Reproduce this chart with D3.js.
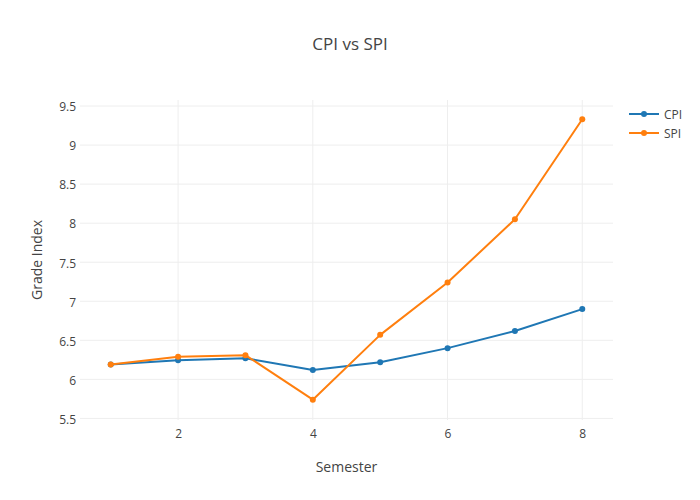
<!DOCTYPE html>
<html>
<head>
<meta charset="utf-8">
<script src="https://cdn.jsdelivr.net/npm/d3@7/dist/d3.min.js"></script>
<style>
  body { margin: 0; background: #fff; }
  svg { font-family: "Open Sans", sans-serif; }
</style>
</head>
<body>
<svg id="chart" width="700" height="500"></svg>
<script>
const semesters = [1, 2, 3, 4, 5, 6, 7, 8];
const cpi = [6.19, 6.245, 6.27, 6.12, 6.22, 6.40, 6.62, 6.90];
const spi = [6.19, 6.29, 6.31, 5.74, 6.57, 7.24, 8.05, 9.33];
const seriesNames = ["CPI", "SPI"];
const seriesColors = ["#1f77b4", "#ff7f0e"];
const xTicks = [2, 4, 6, 8];
const yTicks = [5.5, 6, 6.5, 7, 7.5, 8, 8.5, 9, 9.5];

const svg = d3.select("#chart");
const W = 700, H = 500;
const m = { l: 80, r: 87, t: 100, b: 80 };
const pw = W - m.l - m.r, ph = H - m.t - m.b;

const x = d3.scaleLinear().domain([0.544, 8.456]).range([m.l, m.l + pw]);
const y = d3.scaleLinear().domain([5.48, 9.577]).range([m.t + ph, m.t]);

// grid
const g = svg.append("g");
g.selectAll(".vg").data(xTicks).join("line")
  .attr("x1", d => x(d)).attr("x2", d => x(d))
  .attr("y1", m.t).attr("y2", m.t + ph)
  .attr("stroke", "#eee").attr("stroke-width", 1);
g.selectAll(".hg").data(yTicks).join("line")
  .attr("x1", m.l).attr("x2", m.l + pw)
  .attr("y1", d => y(d)).attr("y2", d => y(d))
  .attr("stroke", "#eee").attr("stroke-width", 1);

// axes via d3 axis, styled plotly-like
const xAxis = d3.axisBottom(x).tickValues(xTicks).tickSize(0).tickPadding(9).tickFormat(d3.format("d"));
const yAxis = d3.axisLeft(y).tickValues(yTicks).tickSize(0).tickPadding(4).tickFormat(d => String(d));
const xa = svg.append("g").attr("transform", `translate(0,${m.t + ph})`).call(xAxis);
const ya = svg.append("g").attr("transform", `translate(${m.l},0)`).call(yAxis);
[xa, ya].forEach(a => {
  a.select(".domain").remove();
  a.selectAll("text").attr("fill", "#444").style("font-size", "12px").style("font-family", "'Open Sans', sans-serif");
});
ya.selectAll("text").attr("dy", "0.4em");

// titles
svg.append("text").attr("x", W / 2).attr("y", 50).attr("text-anchor", "middle")
  .attr("fill", "#444").style("font-size", "17px").text("CPI vs SPI");
svg.append("text").attr("x", m.l + pw / 2).attr("y", 472).attr("text-anchor", "middle")
  .attr("fill", "#444").style("font-size", "14px").text("Semester");
svg.append("text").attr("transform", `translate(42,${m.t + ph / 2}) rotate(-90)`).attr("text-anchor", "middle")
  .attr("fill", "#444").style("font-size", "14px").text("Grade Index");

// series
const data = [cpi, spi];
const line = d3.line().x((d, i) => x(semesters[i])).y(d => y(d));
data.forEach((vals, k) => {
  const sg = svg.append("g");
  sg.append("path").datum(vals).attr("d", line).attr("fill", "none")
    .attr("stroke", seriesColors[k]).attr("stroke-width", 2).attr("stroke-linejoin", "round");
  sg.selectAll("circle").data(vals).join("circle")
    .attr("cx", (d, i) => x(semesters[i])).attr("cy", d => y(d)).attr("r", 3)
    .attr("fill", seriesColors[k]);
});

// legend
const lg = svg.append("g").attr("transform", "translate(629,114)");
seriesNames.forEach((name, k) => {
  const row = lg.append("g").attr("transform", `translate(0,${k * 19})`);
  row.append("line").attr("x1", 0).attr("x2", 30).attr("y1", 0).attr("y2", 0)
    .attr("stroke", seriesColors[k]).attr("stroke-width", 2);
  row.append("circle").attr("cx", 15).attr("cy", 0).attr("r", 3).attr("fill", seriesColors[k]);
  row.append("text").attr("x", 35).attr("y", 4.5).attr("fill", "#444").style("font-size", "12px").text(name);
});
</script>
</body>
</html>
